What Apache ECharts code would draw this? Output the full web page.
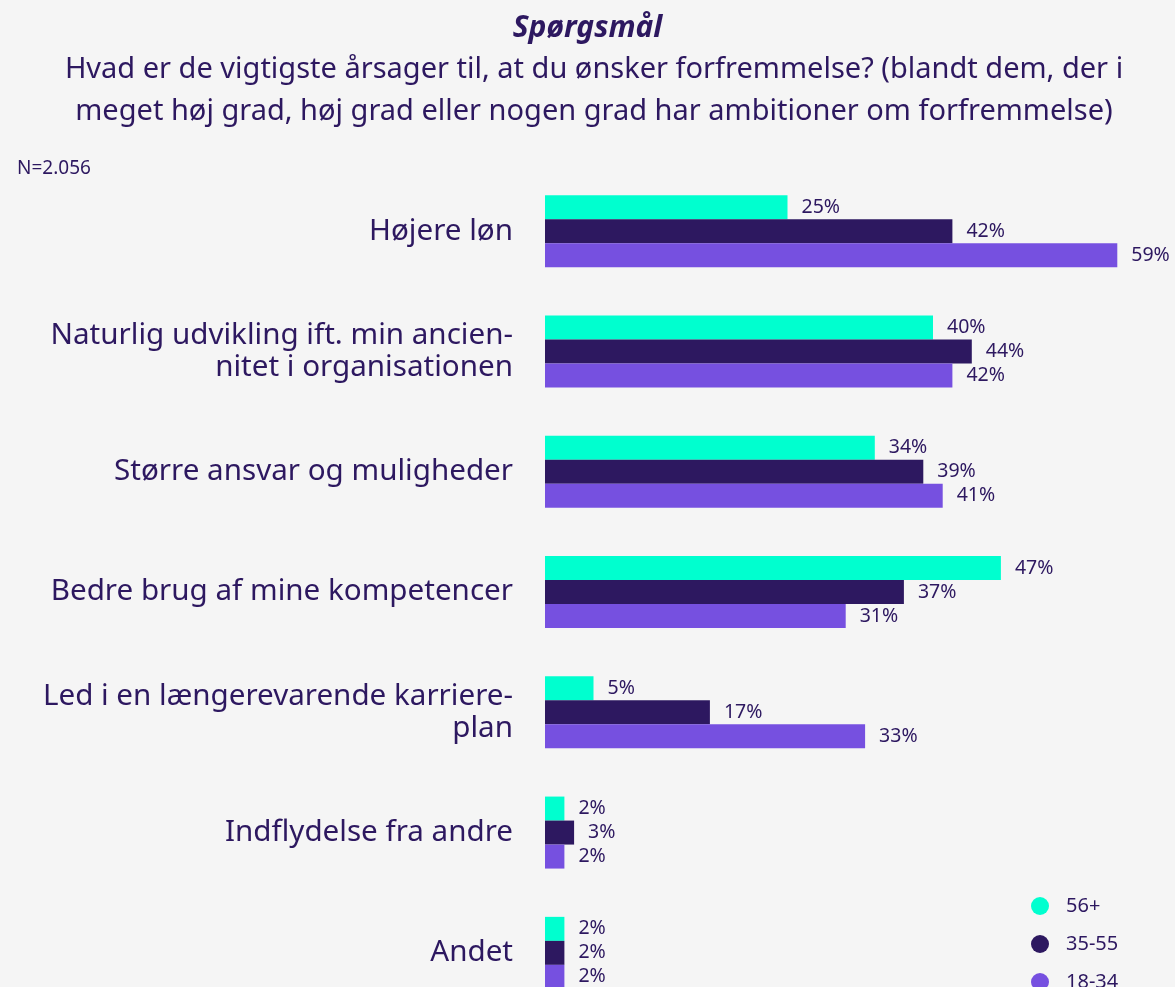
<!DOCTYPE html>
<html>
<head>
<meta charset="utf-8">
<script src="https://cdn.jsdelivr.net/npm/echarts@6/dist/echarts.min.js"></script>
<style>
  html, body { margin: 0; padding: 0; background: #f5f5f5; overflow: hidden; }
  #chart { width: 1175px; height: 1020px; }
</style>
</head>
<body>
<div id="chart"></div>
<script>
// kategorier (top til bund)
const categories = [
  'Højere løn',
  'Naturlig udvikling ift. min ancien-\nnitet i organisationen',
  'Større ansvar og muligheder',
  'Bedre brug af mine kompetencer',
  'Led i en længerevarende karriere-\nplan',
  'Indflydelse fra andre',
  'Andet'
];
const seriesNames = ['56+', '35-55', '18-34'];
const age56 = [25, 40, 34, 47, 5, 2, 2];
const age35 = [42, 44, 39, 37, 17, 3, 2];
const age18 = [59, 42, 41, 31, 33, 2, 2];
const colors = ['#00ffcf', '#2d1860', '#7650e0'];

const textColor = '#2d1860';
const font = 'Noto Sans';
const chart = echarts.init(document.getElementById('chart'));

function barSeries(name, data, color) {
  return {
    name: name,
    type: 'bar',
    data: data,
    barWidth: 24,
    barGap: '0%',
    itemStyle: { color: color },
    label: {
      show: true,
      position: 'right',
      distance: 14,
      formatter: '{c}%',
      color: textColor,
      fontFamily: font,
      fontSize: 19.5
    }
  };
}

chart.setOption({
  backgroundColor: '#f5f5f5',
  animation: false,
  title: [
    {
      text: 'Spørgsmål',
      left: 'center',
      top: 8,
      textStyle: { color: textColor, fontFamily: font, fontSize: 30, fontWeight: 'bold', fontStyle: 'italic' }
    },
    {
      text: 'Hvad er de vigtigste årsager til, at du ønsker forfremmelse? (blandt dem, der i\nmeget høj grad, høj grad eller nogen grad har ambitioner om forfremmelse)',
      left: 589,
      top: 44,
      textAlign: 'center',
      textStyle: { color: textColor, fontFamily: font, fontSize: 29, fontWeight: 'normal', lineHeight: 42, align: 'center' }
    },
    {
      text: 'N=2.056',
      left: 12,
      top: 154,
      textStyle: { color: textColor, fontFamily: font, fontSize: 19, fontWeight: 'normal' }
    }
  ],
  legend: {
    orient: 'vertical',
    left: 1026,
    top: 891,
    icon: 'circle',
    itemWidth: 18,
    itemHeight: 18,
    itemGap: 18,
    textStyle: { color: textColor, fontFamily: font, fontSize: 20, padding: [0, 0, 0, 12] },
    data: seriesNames
  },
  grid: { left: 545, top: 171, width: 600, height: 842 },
  xAxis: {
    type: 'value',
    min: 0,
    max: 600 / 9.7,
    show: false
  },
  yAxis: {
    type: 'category',
    inverse: true,
    data: categories,
    axisLine: { show: false },
    axisTick: { show: false },
    axisLabel: {
      margin: 32,
      color: textColor,
      fontFamily: font,
      fontSize: 29.6,
      lineHeight: 32,
      align: 'right',
      padding: [14, 0, 0, 0]
    }
  },
  series: [
    barSeries(seriesNames[0], age56, colors[0]),
    barSeries(seriesNames[1], age35, colors[1]),
    barSeries(seriesNames[2], age18, colors[2])
  ]
});
</script>
</body>
</html>
